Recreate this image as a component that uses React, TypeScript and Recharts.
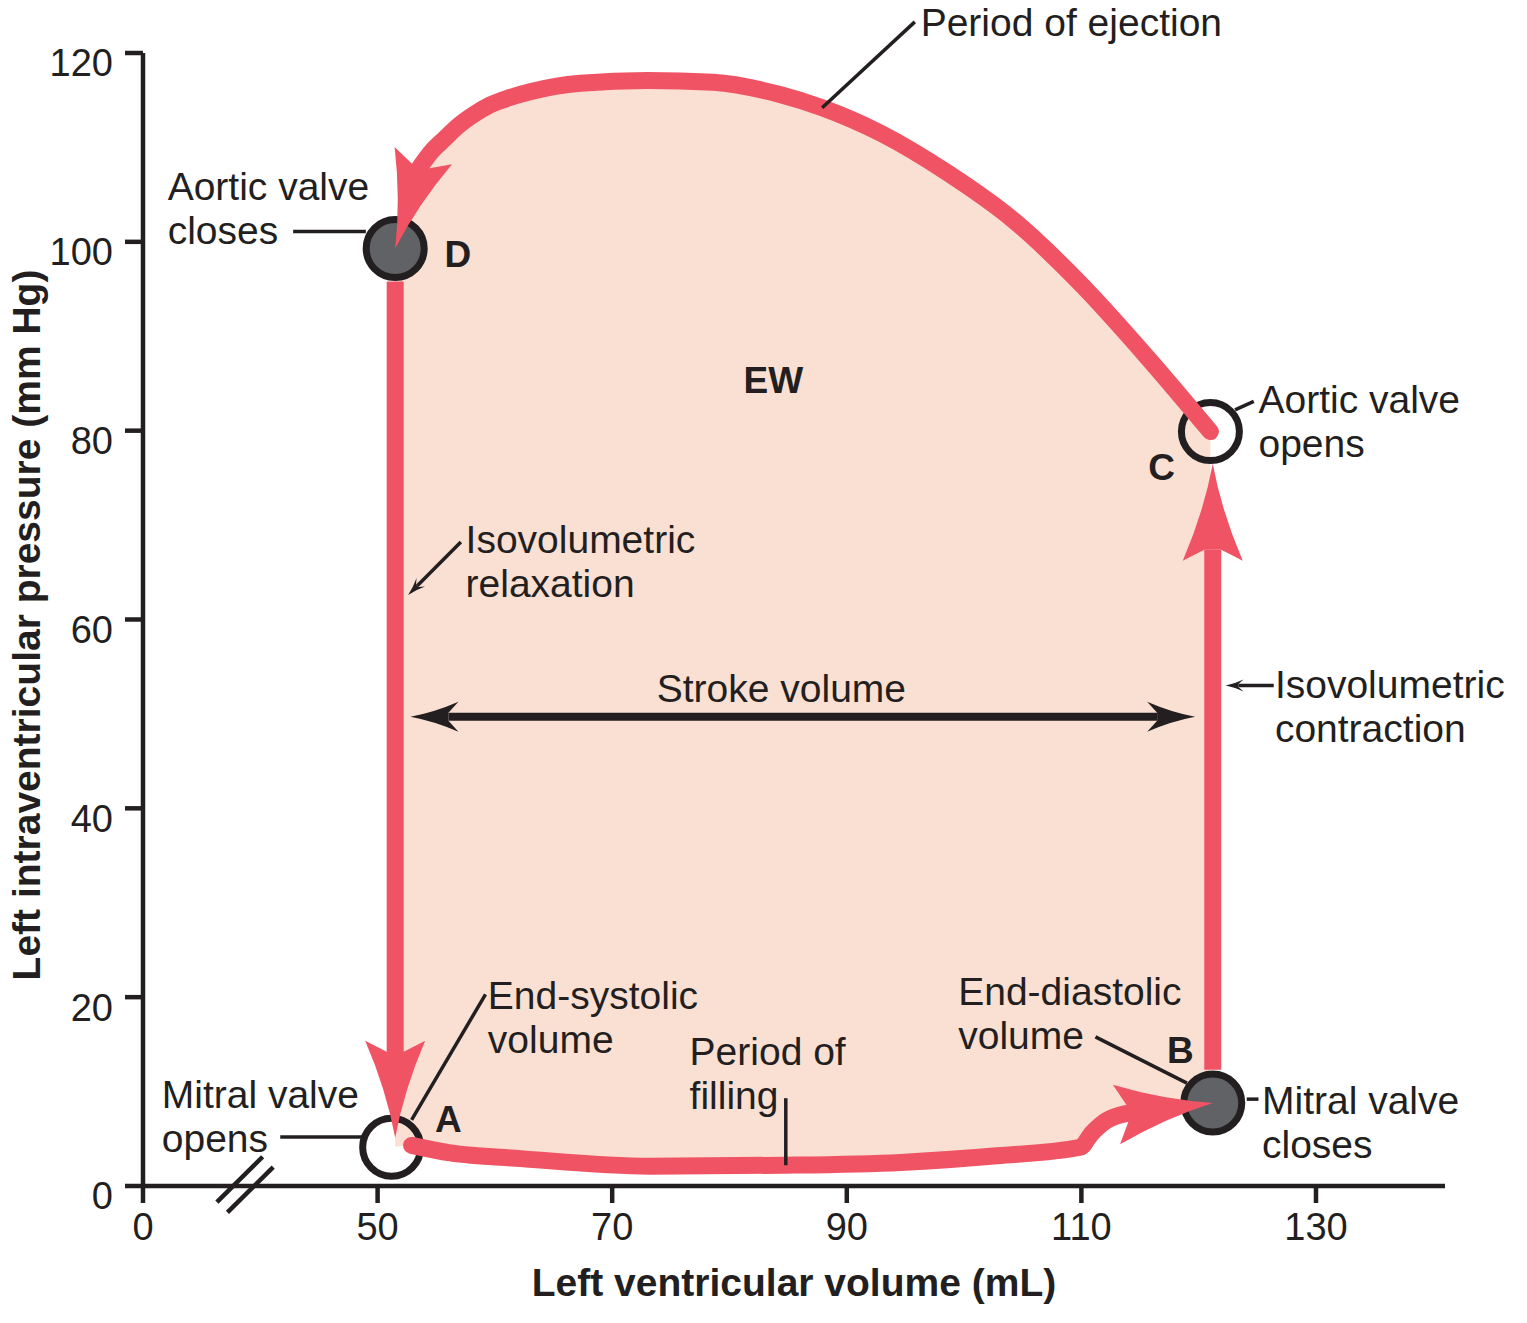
import {
  ComposedChart,
  XAxis,
  YAxis,
  Line,
  Area,
  Scatter,
  ReferenceLine,
  ReferenceDot,
} from "recharts";

// axis ticks (volume 30 sits at the axis break and is labelled "0")
const volumeTicks = [30, 50, 70, 90, 110, 130];
const pressureTicks = [0, 20, 40, 60, 80, 100, 120];

// period of ejection, C -> D (last point is the arrow tip at D)
const ejectionVolume = [121.0, 115.6, 109.9, 104.2, 98.6, 92.9, 87.9, 84.3, 78.6, 73.0, 67.3, 63.0, 61.3, 59.6, 58.1, 56.8, 55.7, 54.7, 53.6, 51.5];
const ejectionPressure = [79.9, 87.8, 95.6, 102.3, 107.3, 111.5, 114.2, 115.6, 116.9, 117.1, 116.8, 115.9, 115.3, 114.5, 113.4, 112.2, 110.9, 109.7, 107.9, 99.3];

// isovolumetric relaxation, D -> A
const relaxationVolume = [51.5, 51.5, 51.5];
const relaxationPressure = [95.8, 14.2, 5.1];

// period of filling, A -> B
const fillingVolume = [52.9, 56.2, 62.2, 73.2, 84.6, 94.6, 102.8, 109.9, 110.9, 112.1, 113.9, 121.2];
const fillingPressure = [4.3, 3.5, 2.9, 2.1, 2.2, 2.5, 3.2, 4.1, 5.6, 6.9, 7.7, 8.8];

// isovolumetric contraction, B -> C
const contractionVolume = [121.2, 121.2, 121.2];
const contractionPressure = [12.3, 67.4, 76.5];

// valve events: D and B closed (filled), A and C open
const closedValveVolume = [51.5, 121.2];
const closedValvePressure = [99.3, 8.8];
const openValveVolume = [51.2, 121.0];
const openValvePressure = [4.1, 79.9];

// stroke volume span
const strokeVolumeSpan = [52.8, 119.7];
const strokeVolumeLevel = [49.7, 49.7];

const RED = "#ef5364";
const PEACH = "#f9e0d3";
const INK = "#231f20";
const GRAY = "#616266";
const FONT = "'Liberation Sans', Arial, Helvetica, sans-serif";

type Pt = { x: number; y: number };

const rows = (v: number[], p: number[]) => v.map((x, i) => ({ v: x, p: p[i] }));

function headPath(tip: Pt, from: Pt, L: number, W: number, notch: number, shaft: number) {
  const dx = tip.x - from.x;
  const dy = tip.y - from.y;
  const len = Math.hypot(dx, dy) || 1;
  const ux = dx / len, uy = dy / len;
  const nx = -uy, ny = ux;
  const at = (a: number, b: number) =>
    `${(tip.x + ux * a + nx * b).toFixed(2)},${(tip.y + uy * a + ny * b).toFixed(2)}`;
  return (
    `M${at(0, 0)}Q${at(-L * 0.5, W * 0.3)} ${at(-L, W)}` +
    `L${at(-L + notch, shaft)}L${at(-L + notch, -shaft)}L${at(-L, -W)}` +
    `Q${at(-L * 0.5, -W * 0.3)} ${at(0, 0)}Z`
  );
}

interface ArrowOpts {
  color: string;
  L: number;
  W: number;
  notch: number;
  shaft: number;
  count: number;
  both?: boolean;
  lineWidth?: number;
}

// dot renderer: draws an arrowhead at the last point, pointing along the last segment
function arrowDot(o: ArrowOpts) {
  let seen: Pt[] = [];
  return (props: any) => {
    const { cx, cy, index } = props;
    if (index === 0) seen = [];
    seen.push({ x: cx, y: cy });
    const pts: Pt[] = Array.isArray(props.points) && props.points.length ? props.points : seen;
    const n = Array.isArray(props.points) && props.points.length ? props.points.length : o.count;
    if (index !== n - 1 || pts.length < 2) return <g key={`a${index}`} />;
    const tip = pts[n - 1];
    const prev = pts[n - 2];
    const first = pts[0];
    const len = Math.hypot(tip.x - prev.x, tip.y - prev.y) || 1;
    const ux = (tip.x - prev.x) / len, uy = (tip.y - prev.y) / len;
    const back = o.L - o.notch;
    const start = o.both ? { x: first.x + ux * back, y: first.y + uy * back } : first;
    const end = { x: tip.x - ux * back, y: tip.y - uy * back };
    return (
      <g key={`a${index}`}>
        {o.lineWidth ? (
          <line x1={start.x} y1={start.y} x2={end.x} y2={end.y} stroke={o.color} strokeWidth={o.lineWidth} />
        ) : null}
        <path d={headPath(tip, prev, o.L, o.W, o.notch, o.shaft)} fill={o.color} stroke="none" />
        {o.both ? (
          <path d={headPath(first, pts[1], o.L, o.W, o.notch, o.shaft)} fill={o.color} stroke="none" />
        ) : null}
      </g>
    );
  };
}

const redHead = { color: RED, L: 97, W: 30, notch: 11, shaft: 8.5, count: 2 };
const pointerHead = { color: INK, L: 18, W: 6, notch: 5, shaft: 1.75, count: 2, lineWidth: 3.5 };

const XTick = (props: any) => (
  <text x={props.x} y={props.y} dy="0.71em" textAnchor="middle" fontFamily={FONT} fontSize={38} fill={INK}>
    {props.payload.value === 30 ? "0" : props.payload.value}
  </text>
);

const YTick = (props: any) => (
  <text x={props.x} y={props.y + 10} dy="0.355em" textAnchor="end" fontFamily={FONT} fontSize={38} fill={INK}>
    {props.payload.value}
  </text>
);

const note = (key: string, v: number, p: number, lines: string[], bold = false, size = 39) => (
  <ReferenceDot
    key={key}
    x={v}
    y={p}
    r={0}
    ifOverflow="visible"
    zIndex={2000}
    shape={(s: any) => (
      <text x={s.cx} y={s.cy} fontFamily={FONT} fontSize={size} fontWeight={bold ? 700 : 400} fill={INK}>
        {lines.map((t, i) => (
          <tspan key={i} x={s.cx} dy={i === 0 ? 0 : 44}>
            {t}
          </tspan>
        ))}
      </text>
    )}
  />
);

const leader = (key: string, a: [number, number], b: [number, number], width = 3.5) => (
  <ReferenceLine
    key={key}
    segment={[{ x: a[0], y: a[1] }, { x: b[0], y: b[1] }]}
    stroke={INK}
    strokeWidth={width}
    ifOverflow="visible"
    zIndex={1500}
  />
);

export default function App() {
  const ejection = rows(ejectionVolume, ejectionPressure);
  const relaxation = rows(relaxationVolume, relaxationPressure);
  const filling = rows(fillingVolume, fillingPressure);
  const contraction = rows(contractionVolume, contractionPressure);
  const openValves = rows(openValveVolume, openValvePressure);
  const closedValves = rows(closedValveVolume, closedValvePressure);
  const fillingShade = [openValves[0], ...filling];

  const segLine = (key: string, data: { v: number; p: number }[], type: "monotone" | "linear", cap: "round" | "butt") => [
    <Line
      key={key}
      data={data.slice(0, -1)}
      dataKey="p"
      type={type}
      stroke={RED}
      strokeWidth={17}
      strokeLinecap={cap}
      dot={false}
      activeDot={false}
      isAnimationActive={false}
      zIndex={400}
    />,
    <Line
      key={`${key}-head`}
      data={data.slice(-2)}
      dataKey="p"
      type="linear"
      stroke="none"
      dot={arrowDot(redHead)}
      activeDot={false}
      isAnimationActive={false}
      zIndex={401}
    />,
  ];

  return (
    <div style={{ position: "absolute", left: 0, top: 0, width: 1527, height: 1323, overflow: "hidden" }}>
      <ComposedChart width={1527} height={1323} margin={{ top: 53, right: 82, bottom: 0, left: 0 }}>
        <Area
          data={ejection}
          dataKey="p"
          type="monotone"
          fill={PEACH}
          fillOpacity={1}
          stroke="none"
          activeDot={false}
          isAnimationActive={false}
          zIndex={100}
        />
        <Area
          data={fillingShade}
          dataKey="p"
          type="monotone"
          fill="#ffffff"
          fillOpacity={1}
          stroke="none"
          activeDot={false}
          isAnimationActive={false}
          zIndex={101}
        />
        <Scatter
          data={closedValves}
          dataKey="p"
          isAnimationActive={false}
          zIndex={300}
          shape={(s: any) => <circle cx={s.cx} cy={s.cy} r={29} fill={GRAY} stroke={INK} strokeWidth={7} />}
        />
        <Scatter
          data={openValves}
          dataKey="p"
          isAnimationActive={false}
          zIndex={300}
          shape={(s: any) => <circle cx={s.cx} cy={s.cy} r={29} fill="none" stroke={INK} strokeWidth={7} />}
        />

        {segLine("ejection", ejection, "monotone", "round")}
        {segLine("relaxation", relaxation, "linear", "butt")}
        {segLine("filling", filling, "monotone", "round")}
        {segLine("contraction", contraction, "linear", "butt")}

        <Line
          data={rows(strokeVolumeSpan, strokeVolumeLevel)}
          dataKey="p"
          stroke="none"
          dot={arrowDot({ color: INK, L: 48, W: 15, notch: 10, shaft: 4, count: 2, both: true, lineWidth: 8 })}
          activeDot={false}
          isAnimationActive={false}
          zIndex={1500}
        />
        <Line
          data={[{ v: 57.1, p: 68.2 }, { v: 52.6, p: 62.6 }]}
          dataKey="p"
          stroke="none"
          dot={arrowDot(pointerHead)}
          activeDot={false}
          isAnimationActive={false}
          zIndex={1500}
        />
        <Line
          data={[{ v: 126.4, p: 53.0 }, { v: 122.3, p: 53.0 }]}
          dataKey="p"
          stroke="none"
          dot={arrowDot(pointerHead)}
          activeDot={false}
          isAnimationActive={false}
          zIndex={1500}
        />

        {leader("l-avc", [42.8, 101.1], [49.0, 101.1])}
        {leader("l-mvo", [41.7, 5.2], [48.7, 5.2])}
        {leader("l-esv", [52.9, 7.0], [59.2, 20.3])}
        {leader("l-edv", [111.2, 15.8], [119.0, 10.9])}
        {leader("l-mvc", [124.1, 9.2], [125.1, 9.2])}
        {leader("l-avo", [123.1, 82.2], [124.7, 83.1])}
        {leader("l-ej", [87.9, 114.2], [95.8, 123.3])}
        {leader("l-fill", [84.8, 9.3], [84.8, 2.2])}
        {leader("brk1", [36.3, -1.7], [40.2, 3.1], 4.5)}
        {leader("brk2", [37.2, -2.8], [41.1, 2.0], 4.5)}

        {note("t-ej", 96.3, 121.8, ["Period of ejection"])}
        {note("t-avc", 32.1, 104.4, ["Aortic valve", "closes"])}
        {note("t-d", 55.7, 97.3, ["D"], true, 37)}
        {note("t-ew", 81.2, 84.0, ["EW"], true, 37)}
        {note("t-avo", 125.1, 81.9, ["Aortic valve", "opens"])}
        {note("t-c", 115.7, 74.8, ["C"], true, 37)}
        {note("t-ir", 57.5, 67.0, ["Isovolumetric", "relaxation"])}
        {note("t-sv", 73.8, 51.3, ["Stroke volume"])}
        {note("t-ic", 126.5, 51.7, ["Isovolumetric", "contraction"])}
        {note("t-esv", 59.4, 18.7, ["End-systolic", "volume"])}
        {note("t-pf", 76.6, 12.8, ["Period of", "filling"])}
        {note("t-edv", 99.5, 19.2, ["End-diastolic", "volume"])}
        {note("t-b", 117.3, 13.0, ["B"], true, 37)}
        {note("t-mvc", 125.4, 7.6, ["Mitral valve", "closes"])}
        {note("t-mvo", 31.6, 8.3, ["Mitral valve", "opens"])}
        {note("t-a", 54.9, 5.7, ["A"], true, 37)}

        <XAxis
          type="number"
          dataKey="v"
          domain={[30, 141]}
          ticks={volumeTicks}
          interval={0}
          height={137}
          tickSize={17}
          tickMargin={10}
          tick={XTick}
          axisLine={{ stroke: INK, strokeWidth: 4.5 }}
          tickLine={{ stroke: INK, strokeWidth: 4.5 }}
          zIndex={500}
          label={{
            content: (lp: any) => {
              const vb = lp.viewBox || { x: 143, y: 1186, width: 1302, height: 137 };
              return (
                <text
                  x={vb.x + vb.width / 2}
                  y={vb.y + 96.5}
                  dy="0.355em"
                  textAnchor="middle"
                  fontFamily={FONT}
                  fontSize={39}
                  fontWeight={700}
                  fill={INK}
                >
                  Left ventricular volume (mL)
                </text>
              );
            },
          }}
        />
        <YAxis
          type="number"
          dataKey="p"
          domain={[0, 120]}
          ticks={pressureTicks}
          interval={0}
          width={143}
          tickSize={18}
          tickMargin={12}
          tick={YTick}
          axisLine={{ stroke: INK, strokeWidth: 4.5 }}
          tickLine={{ stroke: INK, strokeWidth: 4.5 }}
          zIndex={500}
          label={{
            content: (lp: any) => {
              const vb = lp.viewBox || { x: 0, y: 53, width: 143, height: 1133 };
              const cx = vb.x + 26;
              const cy = vb.y + vb.height / 2 + 5.5;
              return (
                <text
                  x={cx}
                  y={cy}
                  dy="0.355em"
                  transform={`rotate(-90, ${cx}, ${cy})`}
                  textAnchor="middle"
                  fontFamily={FONT}
                  fontSize={39}
                  fontWeight={700}
                  fill={INK}
                >
                  Left intraventricular pressure (mm Hg)
                </text>
              );
            },
          }}
        />
      </ComposedChart>
    </div>
  );
}
